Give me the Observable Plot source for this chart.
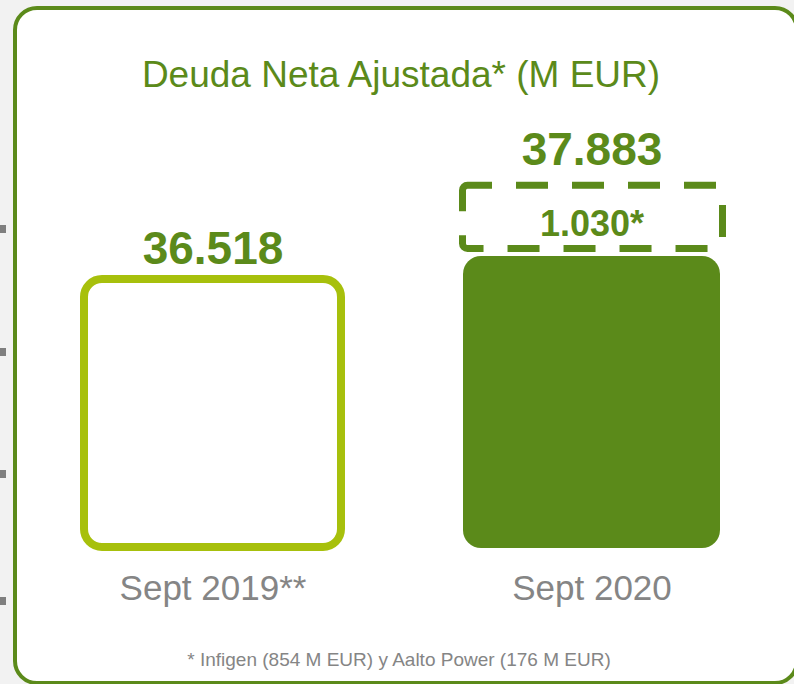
<!DOCTYPE html>
<html>
<head>
<meta charset="utf-8">
<script src="https://cdn.jsdelivr.net/npm/d3@7"></script>
<script src="https://cdn.jsdelivr.net/npm/@observablehq/plot@0.6"></script>
<style>
  html, body { margin: 0; padding: 0; }
  body { width: 794px; height: 684px; overflow: hidden; background: #f2f2f2; font-family: "Liberation Sans", Arial, sans-serif; }
  #wrap { position: relative; width: 794px; height: 684px; overflow: hidden; }
  #frame { position: absolute; left: 13px; top: 6px; width: 786px; height: 679px; box-sizing: border-box;
           border: 4px solid #5b8a1a; border-radius: 24px; background: #fff; }
  .mark { position: absolute; left: 0; width: 6px; height: 8px; background: #7f7f7f; }
  #title { position: absolute; left: 4px; width: 794px; top: 56px; text-align: center; font-size: 37px; line-height: 37px; color: #5b8a1a; }
  #chart { position: absolute; left: 0; top: 100px; }
  #note { position: absolute; left: 0; width: 798px; top: 650px; text-align: center; font-size: 19px; line-height: 19px; color: #858585; }
</style>
</head>
<body>
<div id="wrap">
  <div class="mark" style="top:225px"></div>
  <div class="mark" style="top:348px"></div>
  <div class="mark" style="top:470px"></div>
  <div class="mark" style="top:597px"></div>
  <div id="frame"></div>
  <div id="title">Deuda Neta Ajustada* (M EUR)</div>
  <div id="chart"></div>
  <div id="note">* Infigen (854 M EUR) y Aalto Power (176 M EUR)</div>
</div>
<script>
// Data
const categories = ["Sept 2019**", "Sept 2020"];
const deuda = [36518, 37883];          // total adjusted net debt (M EUR)
const incremento = [0, 1030];          // Infigen + Aalto Power (M EUR)
const etiquetas = ["36.518", "37.883"];
const etiquetaIncremento = ["", "1.030*"];

const dark = "#5b8a1a", light = "#a7c00c";
const yBase = 32600, yTop = 39125;

const rows = categories.map((c, i) => ({
  cat: c, total: deuda[i], inc: incremento[i], base: deuda[i] - incremento[i],
  label: etiquetas[i], incLabel: etiquetaIncremento[i]
}));

const chart = Plot.plot({
  width: 794,
  height: 520,
  marginLeft: 84,
  marginRight: 74,
  marginTop: 0,
  marginBottom: 72,
  style: { background: "transparent", color: "#858585", fontFamily: "'Liberation Sans', Arial, sans-serif", overflow: "visible" },
  x: { domain: categories, paddingInner: 0.3219, paddingOuter: 0, round: false, axis: null },
  y: { domain: [yBase, yTop], axis: null },
  marks: [
    // Sept 2019: outlined bar
    Plot.barY(rows.filter(d => d.inc === 0), {
      x: "cat", y1: yBase, y2: "total", fill: "#fff", stroke: light, strokeWidth: 8, rx: 18, insetBottom: 1
    }),
    // Sept 2020: solid bar (without acquisitions)
    Plot.barY(rows.filter(d => d.inc > 0), {
      x: "cat", y1: yBase, y2: "base", fill: dark, rx: 18
    }),
    // Sept 2020: dashed box for acquisitions
    Plot.barY(rows.filter(d => d.inc > 0), {
      x: "cat", y1: "base", y2: "total", fill: "none", stroke: dark, strokeWidth: 7,
      strokeDasharray: "32,24", strokeDashoffset: 7.5, rx: 5,
      insetBottom: 7.5, insetLeft: -0.5, insetRight: -2.5
    }),
    // value labels
    Plot.text(rows.filter(d => d.inc === 0), {
      x: "cat", y: "total", text: "label", dy: -15, lineAnchor: "bottom",
      fontSize: 46, fontWeight: "bold", fill: dark
    }),
    Plot.text(rows.filter(d => d.inc > 0), {
      x: "cat", y: "total", text: "label", dy: -21, lineAnchor: "bottom",
      fontSize: 46, fontWeight: "bold", fill: dark
    }),
    Plot.text(rows.filter(d => d.inc > 0), {
      x: "cat", y: "total", text: "incLabel", dy: 50, lineAnchor: "bottom",
      fontSize: 36, fontWeight: "bold", fill: dark
    }),
    // category axis
    Plot.axisX({ tickSize: 0, tickPadding: 27, fontSize: 35, fill: "#858585", label: null })
  ]
});
document.getElementById("chart").appendChild(chart);
</script>
</body>
</html>
